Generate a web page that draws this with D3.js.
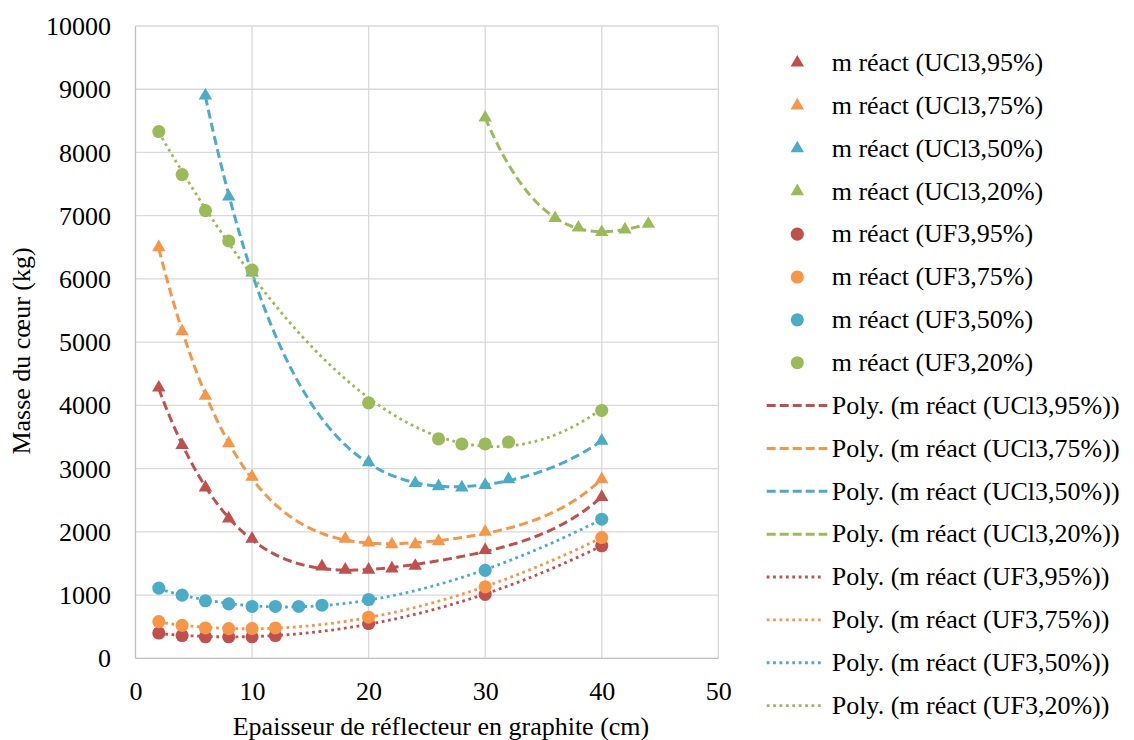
<!DOCTYPE html>
<html><head><meta charset="utf-8">
<script src="https://cdn.jsdelivr.net/npm/d3@7"></script>
<style>
html,body{margin:0;padding:0;background:#fff;}
svg, svg text{font-family:"Liberation Serif","Times New Roman",Times,"DejaVu Serif",serif !important;}
</style></head>
<body>
<svg id="c" width="1134" height="740"></svg>
<script>
// ---- data ----
const seriesNames = ["UCl3,95%","UCl3,75%","UCl3,50%","UCl3,20%","UF3,95%","UF3,75%","UF3,50%","UF3,20%"];
const ucl95X = [2,4,6,8,10,16,18,20,22,24,30,40];
const ucl95Y = [4280,3370,2700,2210,1890,1450,1400,1400,1420,1460,1710,2550];
const ucl75X = [2,4,6,8,10,18,20,22,24,26,30,40];
const ucl75Y = [6500,5170,4150,3400,2870,1890,1830,1800,1800,1850,2000,2830];
const ucl50X = [6,8,10,20,24,26,28,30,32,40];
const ucl50Y = [8900,7300,6100,3100,2770,2720,2700,2740,2830,3440];
const ucl20X = [30,36,38,40,42,44];
const ucl20Y = [8550,6960,6810,6740,6780,6870];
const uf95X = [2,4,6,8,10,12,20,30,40];
const uf95Y = [400,360,340,340,340,360,550,1010,1780];
const uf75X = [2,4,6,8,10,12,20,30,40];
const uf75Y = [580,520,480,470,470,480,650,1130,1910];
const uf50X = [2,4,6,8,10,12,14,16,20,30,40];
const uf50Y = [1110,1000,910,860,820,820,820,840,930,1390,2200];
const uf20X = [2,4,6,8,10,20,26,28,30,32,40];
const uf20Y = [8330,7650,7080,6600,6140,4040,3470,3390,3390,3420,3920];
const polyOrder = [4,4,4,3,3,3,3,3];
const xTicks = [0,10,20,30,40,50];
const yTicks = [0,1000,2000,3000,4000,5000,6000,7000,8000,9000,10000];
const xTitle = "Epaisseur de réflecteur en graphite (cm)";
const yTitle = "Masse du cœur (kg)";

const colors = ["#C0504D","#F79646","#4BACC6","#9BBB59","#C0504D","#F79646","#4BACC6","#9BBB59"];
const allX = [ucl95X,ucl75X,ucl50X,ucl20X,uf95X,uf75X,uf50X,uf20X];
const allY = [ucl95Y,ucl75Y,ucl50Y,ucl20Y,uf95Y,uf75Y,uf50Y,uf20Y];
const series = seriesNames.map((n,i)=>({name:n, color:colors[i], tri:i<4, order:polyOrder[i],
  pts: allX[i].map((x,j)=>({x, y:allY[i][j]}))}));

// ---- layout ----
const L=135.5, R=718.3, T=26, B=658.3;
const x = d3.scaleLinear().domain([0,50]).range([L,R]);
const y = d3.scaleLinear().domain([0,10000]).range([B,T]);
const svg = d3.select("#c");
const FS = 26;
const FF = '"Liberation Serif","Times New Roman",Times,"DejaVu Serif",serif';

// gridlines
svg.append("g").selectAll("line").data(yTicks.slice(1)).join("line")
  .attr("x1",L).attr("x2",R).attr("y1",d=>y(d)).attr("y2",d=>y(d))
  .attr("stroke","#D9D9D9").attr("stroke-width",1.3);
svg.append("g").selectAll("line").data(xTicks.slice(1)).join("line")
  .attr("y1",T).attr("y2",B).attr("x1",d=>x(d)).attr("x2",d=>x(d))
  .attr("stroke","#D9D9D9").attr("stroke-width",1.3);
svg.append("line").attr("x1",L).attr("x2",L).attr("y1",T).attr("y2",B).attr("stroke","#BFBFBF").attr("stroke-width",1.3);
svg.append("line").attr("x1",L).attr("x2",R).attr("y1",B).attr("y2",B).attr("stroke","#BFBFBF").attr("stroke-width",1.3);

const yAxis = svg.append("g").attr("transform",`translate(${L},0)`)
  .call(d3.axisLeft(y).tickValues(yTicks).tickSize(0).tickPadding(24.5).tickFormat(d3.format("d")));
yAxis.attr("font-family",FF).attr("font-size",FS);
yAxis.select(".domain").remove();
yAxis.selectAll("text").attr("fill","#000").attr("dy","0.33em");
const xAxis = svg.append("g").attr("transform",`translate(0,${B})`)
  .call(d3.axisBottom(x).tickValues(xTicks).tickSize(0).tickPadding(23.5).tickFormat(d3.format("d")));
xAxis.attr("font-family",FF).attr("font-size",FS);
xAxis.select(".domain").remove();
xAxis.selectAll("text").attr("fill","#000").attr("dy","0.71em");

svg.append("text").attr("x",441).attr("y",735).attr("text-anchor","middle").attr("font-size",FS).attr("font-family",FF).text(xTitle);
svg.append("text").attr("transform","translate(30,351) rotate(-90)").attr("text-anchor","middle").attr("font-size",FS).attr("font-family",FF).text(yTitle);

function polyfit(pts, order){
  const xm = d3.mean(pts,p=>p.x), xs = (d3.max(pts,p=>p.x)-d3.min(pts,p=>p.x))/2 || 1;
  const n = order+1;
  const A = Array.from({length:n},()=>new Array(n+1).fill(0));
  pts.forEach(p=>{
    const t=(p.x-xm)/xs; const pw=[];
    for(let k=0;k<2*n;k++) pw.push(Math.pow(t,k));
    for(let r=0;r<n;r++){ for(let c=0;c<n;c++) A[r][c]+=pw[r+c]; A[r][n]+=pw[r]*p.y; }
  });
  for(let i=0;i<n;i++){
    let m=i; for(let r=i+1;r<n;r++) if(Math.abs(A[r][i])>Math.abs(A[m][i])) m=r;
    [A[i],A[m]]=[A[m],A[i]];
    for(let r=0;r<n;r++){ if(r===i) continue; const f=A[r][i]/A[i][i]; for(let c=i;c<=n;c++) A[r][c]-=f*A[i][c]; }
  }
  const coef = A.map((row,i)=>row[n]/row[i]);
  return xv=>{const t=(xv-xm)/xs; let s=0; for(let k=n-1;k>=0;k--) s=s*t+coef[k]; return s;};
}

const line = d3.line().x(d=>x(d[0])).y(d=>y(d[1]));
const gTrend = svg.append("g");
series.forEach(s=>{
  const f = polyfit(s.pts, s.order);
  const x0 = d3.min(s.pts,p=>p.x), x1 = d3.max(s.pts,p=>p.x);
  const samples = d3.range(0,201).map(i=>{const xv=x0+(x1-x0)*i/200; return [xv,f(xv)];});
  gTrend.append("path").attr("d",line(samples)).attr("fill","none").attr("stroke",s.color)
    .attr("stroke-width", s.tri?3:2.8)
    .attr("stroke-dasharray", s.tri?"9,4.5":"2.8,3.6");
});

const triSym = d3.symbol().type(d3.symbolTriangle).size(78);
const cirSym = d3.symbol().type(d3.symbolCircle).size(135);
const gMark = svg.append("g");
series.forEach(s=>{
  gMark.append("g").selectAll("path").data(s.pts).join("path")
    .attr("transform",d=>`translate(${x(d.x)},${y(d.y)})`)
    .attr("d", s.tri?triSym():cirSym()).attr("fill",s.color);
});

const lg = svg.append("g").attr("font-family",FF).attr("font-size",FS);
const rowY = i=>62.7+42.86*i;
series.forEach((s,i)=>{
  lg.append("path").attr("transform",`translate(797.3,${rowY(i)})`).attr("d",s.tri?triSym():cirSym()).attr("fill",s.color);
  lg.append("text").attr("x",831.7).attr("y",rowY(i)+8.3).text(`m réact (${s.name})`);
});
series.forEach((s,i)=>{
  const r=i+8;
  lg.append("line").attr("x1",766.7).attr("x2",s.tri?827.3:821.7).attr("y1",rowY(r)).attr("y2",rowY(r))
    .attr("stroke",s.color).attr("stroke-width",s.tri?3:2.8).attr("stroke-dasharray",s.tri?"9,4":"2.8,3.6");
  lg.append("text").attr("x",831.7).attr("y",rowY(r)+8.3).text(`Poly. (m réact (${s.name}))`);
});
</script>
</body></html>
